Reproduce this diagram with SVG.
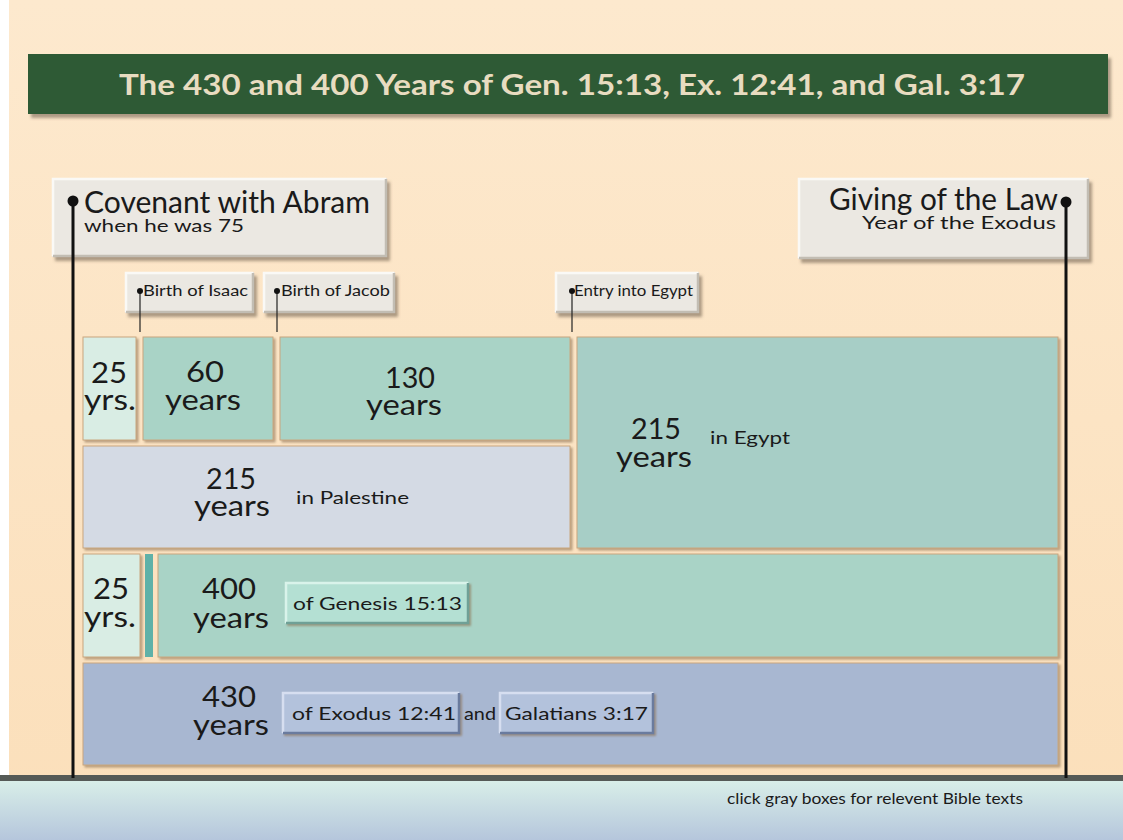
<svg xmlns="http://www.w3.org/2000/svg" width="1123" height="840" viewBox="0 0 1123 840">
<defs>
<linearGradient id="bg" x1="0" y1="0" x2="0" y2="1"><stop offset="0" stop-color="#fde9ce"/><stop offset="1" stop-color="#fbdfba"/></linearGradient>
<linearGradient id="foot" x1="0" y1="0" x2="0" y2="1"><stop offset="0" stop-color="#d8eee8"/><stop offset="1" stop-color="#b5c6dc"/></linearGradient>
<filter id="sh" x="-5%" y="-10%" width="115%" height="130%"><feDropShadow dx="3" dy="4" stdDeviation="1.5" flood-color="#6b5a48" flood-opacity="0.55"/></filter>
<filter id="sh2" x="-5%" y="-10%" width="115%" height="130%"><feDropShadow dx="2" dy="2" stdDeviation="0.8" flood-color="#8a6e50" flood-opacity="0.6"/></filter>
</defs>
<style>
text{font-family:Lato,"Open Sans","Liberation Sans",sans-serif;fill:#1a1a1a}
.big{font-size:30px}
.num{font-size:28px;text-anchor:middle}
.sub{font-size:18px}
.small{font-size:15px}
.gray{fill:#ebe8e2}
.bev{fill:none;stroke-width:2.5}
.line{stroke:#111;stroke-width:3;fill:none}
.thin{stroke:#222;stroke-width:1.2;fill:none}
.seg{stroke:#c9a67e;stroke-width:1}
</style>
<rect x="0" y="0" width="1123" height="840" fill="url(#bg)"/>
<rect x="0" y="0" width="9" height="840" fill="#fff"/>
<rect x="0" y="781" width="1123" height="59" fill="url(#foot)"/>
<rect x="0" y="775" width="1123" height="6" fill="#555a56"/>

<g id="title">
<rect x="28" y="54" width="1080" height="60" fill="#2e5a35" filter="url(#sh)"/>
<text x="572" y="95" text-anchor="middle" font-size="28" textLength="906" lengthAdjust="spacingAndGlyphs" style="fill:#e8dcc0;font-weight:bold">The 430 and 400 Years of Gen. 15:13, Ex. 12:41, and Gal. 3:17</text>
</g>

<g id="rows">
<g id="r25a"><rect x="83" y="337" width="53" height="103" fill="#d9ede4" class="seg" filter="url(#sh2)"/>
<text class="num" x="109" y="383" textLength="36" lengthAdjust="spacingAndGlyphs">25</text><text class="num" x="110" y="410" textLength="52" lengthAdjust="spacingAndGlyphs">yrs.</text></g>
<g id="r60"><rect x="143" y="337" width="130" height="103" fill="#a9d3c6" class="seg" filter="url(#sh2)"/>
<text class="num" x="205" y="382" textLength="38" lengthAdjust="spacingAndGlyphs">60</text><text class="num" x="203" y="410" textLength="76" lengthAdjust="spacingAndGlyphs">years</text></g>
<g id="r130"><rect x="280" y="337" width="290" height="103" fill="#a9d3c6" class="seg" filter="url(#sh2)"/>
<text class="num" x="410" y="388" textLength="50" lengthAdjust="spacingAndGlyphs">130</text><text class="num" x="404" y="415" textLength="76" lengthAdjust="spacingAndGlyphs">years</text></g>
<g id="r215p"><rect x="83" y="446" width="487" height="102" fill="#d4dae4" class="seg" filter="url(#sh2)"/>
<text class="num" x="231" y="489" textLength="50" lengthAdjust="spacingAndGlyphs">215</text><text class="num" x="232" y="516" textLength="76" lengthAdjust="spacingAndGlyphs">years</text>
<text class="sub" x="296" y="504" textLength="113" lengthAdjust="spacingAndGlyphs">in Palestine</text></g>
<g id="r215e"><rect x="577" y="337" width="481" height="211" fill="#a7cec6" class="seg" filter="url(#sh2)"/>
<text class="num" x="656" y="439" textLength="50" lengthAdjust="spacingAndGlyphs">215</text><text class="num" x="654" y="467" textLength="76" lengthAdjust="spacingAndGlyphs">years</text>
<text class="sub" x="710" y="444" textLength="80" lengthAdjust="spacingAndGlyphs">in Egypt</text></g>
<g id="r25b"><rect x="83" y="554" width="57" height="103" fill="#d9ede4" class="seg" filter="url(#sh2)"/>
<text class="num" x="111" y="599" textLength="36" lengthAdjust="spacingAndGlyphs">25</text><text class="num" x="110" y="627" textLength="52" lengthAdjust="spacingAndGlyphs">yrs.</text>
<rect x="145" y="554" width="8" height="103" fill="#5fb1a8"/></g>
<g id="r400"><rect x="158" y="554" width="900" height="103" fill="#a9d3c6" class="seg" filter="url(#sh2)"/>
<text class="num" x="229" y="599" textLength="54" lengthAdjust="spacingAndGlyphs">400</text><text class="num" x="231" y="628" textLength="76" lengthAdjust="spacingAndGlyphs">years</text>
<g id="gen"><rect x="285" y="582" width="184" height="42" fill="#b4e0d3" filter="url(#sh2)"/>
<polyline class="bev" stroke="#d9f3ea" points="286,623 286,583 468,583"/>
<polyline class="bev" stroke="#6fa096" points="286,623 468,623 468,583"/>
<text class="sub" x="293" y="610" textLength="169" lengthAdjust="spacingAndGlyphs">of Genesis 15:13</text></g></g>
<g id="r430"><rect x="83" y="663" width="975" height="102" fill="#a8b7d1" class="seg" filter="url(#sh2)"/>
<text class="num" x="229" y="707" textLength="54" lengthAdjust="spacingAndGlyphs">430</text><text class="num" x="231" y="735" textLength="76" lengthAdjust="spacingAndGlyphs">years</text>
<g id="exo"><rect x="282" y="692" width="178" height="42" fill="#b3c2dc" filter="url(#sh2)"/>
<polyline class="bev" stroke="#d6def0" points="283,733 283,693 459,693"/>
<polyline class="bev" stroke="#6a7b9e" points="283,733 459,733 459,693"/>
<text class="sub" x="292" y="720" textLength="164" lengthAdjust="spacingAndGlyphs">of Exodus 12:41</text></g>
<text class="sub" x="464" y="720" textLength="32" lengthAdjust="spacingAndGlyphs">and</text>
<g id="gal"><rect x="499" y="692" width="155" height="42" fill="#b3c2dc" filter="url(#sh2)"/>
<polyline class="bev" stroke="#d6def0" points="500,733 500,693 653,693"/>
<polyline class="bev" stroke="#6a7b9e" points="500,733 653,733 653,693"/>
<text class="sub" x="505" y="720" textLength="143" lengthAdjust="spacingAndGlyphs">Galatians 3:17</text></g></g>
</g>

<g id="covenant">
<rect x="52" y="178" width="335" height="79" class="gray" filter="url(#sh)"/>
<polyline class="bev" stroke="#faf9f6" points="53,256 53,179 386,179"/>
<polyline class="bev" stroke="#c2bdb3" points="53,256 386,256 386,179"/>
<text class="big" x="84" y="213" textLength="286" lengthAdjust="spacingAndGlyphs">Covenant with Abram</text>
<text class="sub" x="84" y="232" textLength="160" lengthAdjust="spacingAndGlyphs">when he was 75</text>
</g>
<g id="law">
<rect x="798" y="178" width="291" height="81" class="gray" filter="url(#sh)"/>
<polyline class="bev" stroke="#faf9f6" points="799,258 799,179 1088,179"/>
<polyline class="bev" stroke="#c2bdb3" points="799,258 1088,258 1088,179"/>
<text class="big" x="829" y="210" textLength="229" lengthAdjust="spacingAndGlyphs">Giving of the Law</text>
<text class="sub" x="862" y="229" textLength="194" lengthAdjust="spacingAndGlyphs">Year of the Exodus</text>
</g>
<g id="isaac">
<rect x="125" y="272" width="129" height="41" class="gray" filter="url(#sh)"/>
<polyline class="bev" stroke="#faf9f6" points="126,312 126,273 253,273"/>
<polyline class="bev" stroke="#c2bdb3" points="126,312 253,312 253,273"/>
<text class="small" x="143" y="296" textLength="105" lengthAdjust="spacingAndGlyphs">Birth of Isaac</text>
</g>
<g id="jacob">
<rect x="263" y="272" width="132" height="41" class="gray" filter="url(#sh)"/>
<polyline class="bev" stroke="#faf9f6" points="264,312 264,273 394,273"/>
<polyline class="bev" stroke="#c2bdb3" points="264,312 394,312 394,273"/>
<text class="small" x="281" y="296" textLength="109" lengthAdjust="spacingAndGlyphs">Birth of Jacob</text>
</g>
<g id="egypt">
<rect x="555" y="272" width="144" height="41" class="gray" filter="url(#sh)"/>
<polyline class="bev" stroke="#faf9f6" points="556,312 556,273 698,273"/>
<polyline class="bev" stroke="#c2bdb3" points="556,312 698,312 698,273"/>
<text class="small" x="574" y="296" textLength="119" lengthAdjust="spacingAndGlyphs">Entry into Egypt</text>
</g>

<g id="connectors">
<line class="line" x1="73" y1="201" x2="73" y2="778"/>
<circle cx="73" cy="201" r="5.5" fill="#111"/>
<line class="line" x1="1066" y1="202" x2="1066" y2="778"/>
<circle cx="1066" cy="202" r="5.5" fill="#111"/>
<line class="thin" x1="140" y1="291" x2="140" y2="332"/>
<circle cx="140" cy="291" r="3" fill="#111"/>
<line class="thin" x1="277" y1="291" x2="277" y2="332"/>
<circle cx="277" cy="291" r="3" fill="#111"/>
<line class="thin" x1="572" y1="291" x2="572" y2="332"/>
<circle cx="572" cy="291" r="3" fill="#111"/>
</g>

<text x="727" y="804" font-size="16" textLength="296" lengthAdjust="spacingAndGlyphs">click gray boxes for relevent Bible texts</text>
</svg>
